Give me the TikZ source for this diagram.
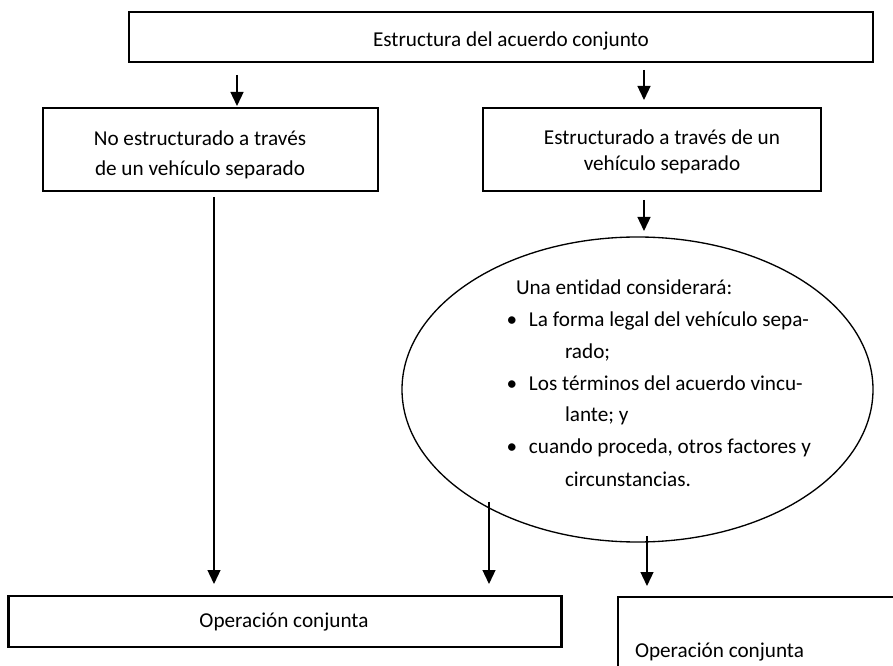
\documentclass[tikz,border=0pt]{standalone}
\usepackage{fontspec}
\setmainfont{Carlito}[Ligatures=NoCommon]
\usetikzlibrary{shapes.geometric,arrows.meta}
\begin{document}
\begin{tikzpicture}[x=0.75pt,y=-0.75pt,
  every node/.style={font=\fontsize{15.9pt}{19pt}\selectfont},
  box/.style={draw, rectangle, line width=1.5pt, inner sep=0pt, outer sep=0pt},
  thickbox/.style={box, line width=2.1pt},
  oval/.style={draw, ellipse, line width=1pt, inner sep=0pt, outer sep=0pt},
  txt/.style={inner sep=0pt, outer sep=0pt},
  arr/.style={line width=1pt, -{Triangle[width=9.75pt,length=10.5pt]}}]
\def\u{0.75pt}
\useasboundingbox (0,0) rectangle (893,666);
\clip (0,0) rectangle (893,666);

% shapes
\node[box, minimum width=744*\u, minimum height=50*\u] (top) at (501,37) {};
\node[box, minimum width=335*\u, minimum height=83*\u] (left) at (210.5,149.5) {};
\node[box, minimum width=338*\u, minimum height=83*\u] (right) at (652,149.5) {};
\node[oval, minimum width=471*\u, minimum height=305*\u] (ell) at (637.5,389.5) {};
\node[thickbox, minimum width=553*\u, minimum height=51*\u] (bl) at (285,621.5) {};
\node[box, minimum width=332*\u, minimum height=123*\u] (br) at (784,658.5) {};

% texts
\node[txt, anchor=base west] (ttop) at (373,47) {Estructura del acuerdo conjunto};
\node[txt, anchor=base] (tl1) at (200,146) {No estructurado a través};
\node[txt, anchor=base] (tl2) at (200,176) {de un vehículo separado};
\node[txt, anchor=base] (tr1) at (662,145) {Estructurado a través de un};
\node[txt, anchor=base] (tr2) at (662,171) {vehículo separado};

\node[txt, anchor=base west] (e1) at (516,295) {Una entidad considerará:};
\node[txt, anchor=base west] (e2) at (529,327) {\llap{\textbullet\hspace{8.8pt}}La forma legal del vehículo sepa-};
\node[txt, anchor=base west] (e3) at (565,359) {rado;};
\node[txt, anchor=base west] (e4) at (529,391) {\llap{\textbullet\hspace{8.8pt}}Los términos del acuerdo vincu-};
\node[txt, anchor=base west] (e5) at (565,422) {lante; y};
\node[txt, anchor=base west] (e6) at (529,454) {\llap{\textbullet\hspace{8.8pt}}cuando proceda, otros factores y};
\node[txt, anchor=base west] (e7) at (565,487) {circunstancias.};

\node[txt, anchor=base] (tbl) at (284,627) {Operación conjunta};
\node[txt, anchor=base west] (tbr) at (635,657) {Operación conjunta};

% connectors
\coordinate (c1) at (237,75);
\coordinate (c2) at (644,70);
\coordinate (c3) at (644,200);
\coordinate (c4) at (214,197);
\coordinate (c5) at (489,502);
\coordinate (c6) at (647,536);
\draw[arr, shorten >=1.5pt] (c1) -- (left.north -| c1);
\draw[arr, shorten >=6pt] (c2) -- (right.north -| c2);
\draw[arr, shorten >=4.5pt] (c3) -- (ell.north -| c3);
\draw[arr, shorten >=9pt] (c4) -- (bl.north -| c4);
\draw[arr, shorten >=9pt] (c5) -- (bl.north -| c5);
\draw[arr, shorten >=8.25pt] (c6) -- (br.north -| c6);
\end{tikzpicture}
\end{document}
